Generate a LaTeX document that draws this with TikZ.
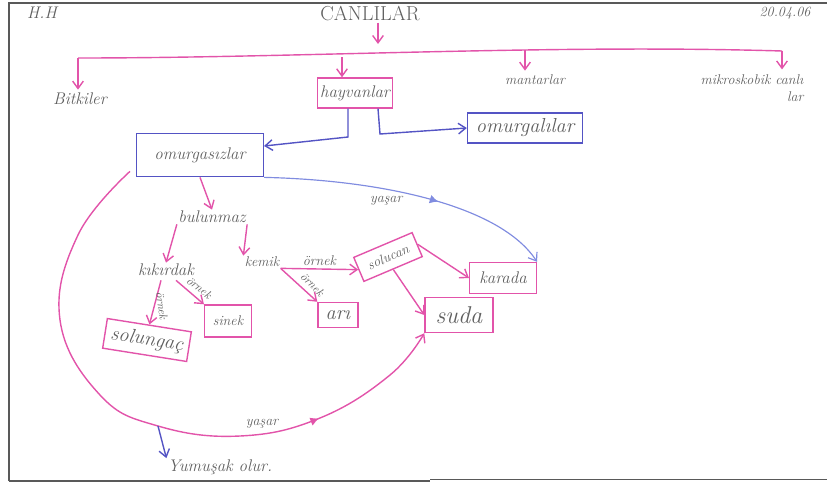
\documentclass[tikz,border=0pt]{standalone}
\usepackage{fontspec}
\usepackage{tikz}
\usetikzlibrary{arrows.meta,positioning,calc,decorations.markings}
\definecolor{penpink}{RGB}{226,84,170}
\definecolor{penblue}{RGB}{84,84,196}
\definecolor{lightpen}{RGB}{128,140,224}
\definecolor{pencil}{RGB}{95,95,95}

\begin{document}
\begin{tikzpicture}[x=0.3mm, y=-0.3mm,
    box/.style={draw=penpink, line width=1.2pt, text=pencil, font=\Large\itshape, inner sep=1pt},
    bluebox/.style={box, draw=penblue},
    word/.style={text=pencil, font=\Large\itshape, inner sep=1pt},
    tag/.style={text=pencil, font=\normalsize\itshape, inner sep=2.5pt},
    pinkarrow/.style={-{Straight Barb[length=2.2mm,width=3.2mm]}, penpink, line width=1.2pt},
    bluearrow/.style={pinkarrow, penblue},
    midtip/.style={postaction={decorate, decoration={markings, mark=at position #1 with {\arrow{Latex[length=2.6mm,width=2.6mm]}}}}}
]
\useasboundingbox (0,0) rectangle (827,484);
% sheet edges
\draw[gray!70!black, line width=1pt] (9,481) -- (9,3) -- (827,3);
\draw[gray!70!black, line width=1pt] (9,481) -- (430,481);
\draw[gray!70!black, line width=0.8pt] (430,479) -- (827,479);

\node[word] (hh) at (42,13) {H.H};
\node[word, font=\LARGE] (canlilar) at (370,14) {CANLILAR};
\node[word, font=\large\itshape] (tarih) at (785,13) {20.04.06};

\node[word] (bitkiler) at (80,99) {Bitkiler};
\node[box, minimum width=22.5mm, minimum height=9mm] (hayvanlar) at (355,93) {hayvanlar};
\node[word, font=\large\itshape] (mantarlar) at (535,80) {mantarlar};
\node[word, font=\large\itshape, align=right] (mikro) at (752,88) {mikroskobik canlı\\lar\hspace{2mm}};

\node[bluebox, font=\LARGE\itshape, minimum width=34.5mm, minimum height=9mm] (omurgali) at (525,128) {omurgalılar};
\node[bluebox, minimum width=38mm, minimum height=13mm] (omurgasiz) at (200,155) {omurgasızlar};

\node[word] (bulunmaz) at (212,217) {bulunmaz};
\node[word] (kikirdak) at (166,270) {kıkırdak};
\node[word, font=\large\itshape] (kemik) at (262,262) {kemik};

\node[box, font=\LARGE\itshape, rotate=-9, minimum width=25.5mm, minimum height=9mm] (solungac) at (147,340) {solungaç};
\node[box, font=\large\itshape, minimum width=14mm, minimum height=9.6mm] (sinek) at (228,321) {sinek};
\node[box, font=\LARGE\itshape, minimum width=12mm, minimum height=7.5mm] (ari) at (338,315) {arı};
\node[box, font=\large\itshape, rotate=23, minimum width=19mm, minimum height=7.8mm] (solucan) at (388,257) {solucan};
\node[box, minimum width=20mm, minimum height=9.3mm] (karada) at (503,278) {karada};
\node[box, font=\huge\itshape, minimum width=20.4mm, minimum height=10.5mm] (suda) at (459,315) {suda};

\node[word] (yumusak) at (220,467) {Yumuşak olur.};

% top level
\coordinate (bar) at (378,44);
\coordinate (barL) at (78,58);
\coordinate (barH) at (342,57);
\coordinate (barM) at (525,50);
\coordinate (barR) at (782,51);
\draw[pinkarrow] (canlilar.south -| bar) -- (bar);
\draw[penpink, line width=1.2pt] (barL) .. controls (300,58) and (550,44) .. (barR);
\draw[pinkarrow] (barL) -- ($(bitkiler.north -| barL)+(0,-2)$);
\draw[pinkarrow] (barH) -- (hayvanlar.north -| barH);
\draw[pinkarrow] (barM) -- ($(mantarlar.north -| barM)+(0,-3)$);
\draw[pinkarrow] (barR) -- ($(mikro.north -| barR)+(0,-4)$);

% hayvanlar
\draw[bluearrow] (hayvanlar.south -| 348,0) -- (348,137) -- (omurgasiz.8);
\draw[bluearrow] (hayvanlar.south -| 378,0) -- (380,134) -- (omurgali.west);

% omurgasizlar
\draw[pinkarrow] (omurgasiz.south) -- (bulunmaz.north);
\draw[pinkarrow] (bulunmaz.south west) -- (kikirdak.north);
\draw[pinkarrow] (bulunmaz.south east) -- (kemik.north west);
\draw[pinkarrow] ($(kikirdak.south)+(-5,3)$) -- node[tag, rotate=-82, anchor=south, pos=0.6] {örnek} (solungac.north);
\draw[pinkarrow] ($(kikirdak.south)+(10,3)$) -- node[tag, rotate=-38, anchor=south, pos=0.62, inner sep=4pt] {örnek} (sinek.north west);
\draw[pinkarrow] (kemik.south east) -- node[tag, font=\large\itshape, above, pos=0.5] {örnek} (solucan.west);
\draw[pinkarrow] (kemik.south east) -- node[tag, rotate=-46, anchor=south, pos=0.68, inner sep=4pt] {örnek} (ari.north west);
\draw[pinkarrow] (solucan.east) -- (karada.west);
\draw[pinkarrow] (solucan.south) -- (suda.west);

% yasar
\draw[bluearrow, lightpen, line width=1pt, midtip=0.6] (omurgasiz.south east) .. controls (380,180) and (500,205) .. (karada.north east)
    node[tag, font=\large\itshape, pos=0.42, below left] {yaşar};
\coordinate (dal) at (158,426);
\draw[pinkarrow, midtip=0.78] plot[smooth, tension=0.7] coordinates {($(omurgasiz.south west)+(-6,-6)$) (78,235) (60,320) (100,395) (158,426) (240,436) (320,418) (390,375) (suda.south west)};
\node[tag, font=\large\itshape] (yasar) at (262,424) {yaşar};
\draw[bluearrow] (dal) -- (yumusak.north west);
\end{tikzpicture}
\end{document}
